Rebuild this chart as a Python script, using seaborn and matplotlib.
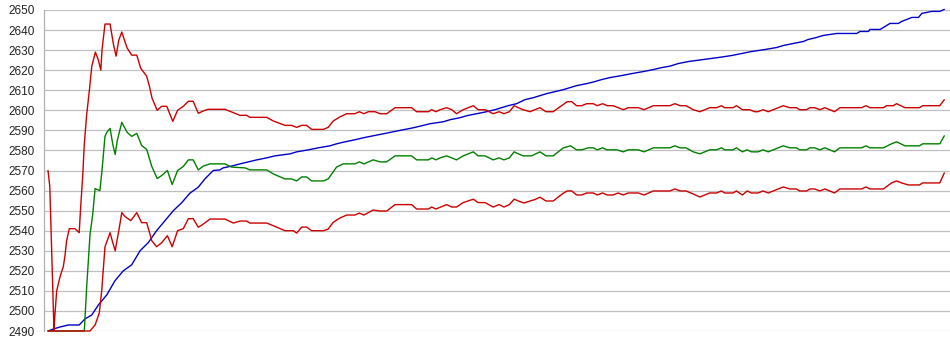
import matplotlib
matplotlib.use('Agg')
import matplotlib.pyplot as plt
import seaborn as sns

# x is the sample index (no labels on the x axis in the original)
upper_t = [0, 0.6, 2.0, 2.3, 2.9, 4.0, 5.1, 5.7, 6.2, 7.1, 9.0, 10.4, 10.9, 11.6, 12.1, 12.9, 13.8, 14.6,
           15.8, 16.8, 17.6, 18.0, 19.0, 20.7, 21.8, 22.7, 23.6, 24.6, 25.7, 26.4, 27.9, 29.6, 30.9, 32.9,
           33.8, 34.7, 36.4, 37.9, 39.6, 41.6, 43.2, 45.1, 46.8, 48.4, 50.1, 51.8, 53.4, 59.0, 61.2, 64.0,
           66.2, 67.3, 72.9, 75.1, 79.0, 81.2, 82.9, 84.6, 86.2, 87.9, 91.8, 93.4, 95.1, 97.3, 99.6, 102.3,
           103.8, 105.3, 106.8, 109.0, 110.7, 112.9, 115.7, 121.2, 122.9, 126.8, 127.9, 129.3, 130.7, 132.9,
           134.6, 136.2, 138.4, 140.1, 141.8, 143.4, 145.7, 148.4, 150.4, 152.0, 153.8, 155.4, 156.8, 158.4,
           160.7, 162.3, 164.0, 166.0, 168.4, 171.2, 173.1, 174.6, 176.2, 177.9, 179.6, 181.8, 183.1, 184.9,
           186.4, 188.4, 191.8, 193.4, 196.8, 198.7, 201.8, 207.3, 209.0, 210.7, 212.7, 215.1, 217.3, 220.6,
           222.9, 224.5, 225.6, 228.4, 229.5, 231.5, 233.9, 235.6, 236.7, 238.4, 240.1, 245.1, 247.3, 249.5,
           250.6, 252.9, 254.0, 255.6, 257.3, 259.0, 260.6, 262.2, 264.0, 271.2, 272.7, 274.0, 278.5, 279.6,
           281.8, 282.9, 285.7, 290.5, 291.6, 297.3, 298.8]
upper_v = [2570, 2562, 2490, 2498, 2510, 2517, 2522, 2528, 2535, 2541, 2541, 2539, 2552, 2568, 2583, 2598,
           2610, 2622, 2629, 2625, 2620, 2630, 2643, 2643, 2633, 2627, 2635, 2639, 2634, 2631, 2627.5, 2627.5,
           2621, 2617, 2612, 2606, 2600, 2602, 2602, 2594.5, 2600, 2602, 2604.5, 2604.5, 2598.5, 2599.7,
           2600.5, 2600.5, 2599.2, 2597.5, 2597.5, 2596.5, 2596.5, 2594.7, 2592.5, 2592.5, 2591.5, 2592.5,
           2592.5, 2590.5, 2590.5, 2591.5, 2594.7, 2596.7, 2598.3, 2598.3,
           2599.3, 2598.3, 2599.3, 2599.3, 2598.3, 2598.3, 2601.3, 2601.3, 2599.3, 2599.3, 2600.3, 2599.3,
           2600.3, 2601.3, 2600.3, 2598.3, 2600.3, 2601.3, 2602.3, 2600.3, 2600.3, 2598.3, 2599.3, 2598.3,
           2599.3, 2602.3, 2601.3, 2600.3, 2599.3, 2600.3, 2601.3, 2599.3, 2599.3, 2602.3, 2604.3, 2604.3,
           2602.3, 2602.3, 2603.3, 2603.3, 2602.3, 2603.3, 2602.3, 2602.3, 2600.3, 2601.3, 2601.3, 2600.3,
           2602.3, 2602.3, 2603.3, 2602.3, 2602.3, 2600.3, 2599.3, 2601.3, 2601.3, 2602.3, 2601.3, 2601.3,
           2602.3, 2600.3, 2600.3, 2599.3, 2599.3, 2600.3, 2599.3, 2602.3, 2601.3, 2601.3, 2600.3, 2600.3,
           2601.3, 2601.3, 2600.3, 2601.3, 2600.3, 2599.3, 2601.3, 2601.3, 2602.3, 2601.3, 2601.3, 2602.3,
           2602.3, 2603.3, 2601.3, 2601.3, 2602.3, 2602.3, 2605.3]

mid_t = [0, 12.1, 12.9, 14.0, 14.9, 15.7, 16.4, 17.3, 18.0, 19.0, 19.6, 20.7, 21.6, 22.4, 23.1, 24.6, 26.4,
         27.9, 29.6, 31.2, 32.9, 34.6, 36.4, 37.9, 39.8, 41.4, 43.2, 45.1, 46.8, 48.4, 50.1, 51.8, 54.0, 59.0,
         61.2, 65.7, 67.3, 72.9, 75.1, 79.0, 81.2, 82.9, 84.6, 86.2, 87.9, 91.8, 93.4, 96.2, 98.4, 102.3,
         103.8, 105.3, 108.4, 110.7, 112.9, 115.7, 121.2, 122.9, 126.8, 127.9, 129.3, 130.7, 132.9, 136.2,
         138.4, 140.1, 141.8, 143.4, 145.7, 148.4, 150.4, 152.0, 153.8, 155.4, 156.8, 158.4, 161.2, 164.0,
         166.0, 168.4, 171.8, 174.2, 176.2, 177.9, 180.1, 181.8, 183.1, 184.9, 186.4, 189.6, 191.8, 193.4,
         196.8, 198.7, 201.8, 207.3, 209.0, 210.7, 212.7, 215.1, 217.3, 220.6, 222.9, 224.5, 225.6, 228.4,
         229.5, 231.5, 233.1, 234.5, 236.7, 238.4, 240.1, 245.1, 247.3, 249.5, 250.6, 252.9, 254.0, 255.6,
         257.3, 259.0, 260.6, 262.2, 264.0, 271.2, 272.7, 274.0, 278.5, 281.2, 282.9, 285.7, 290.5, 291.6,
         297.3, 298.8]
mid_v = [2490, 2490, 2512, 2538, 2548, 2561, 2560.5, 2560, 2570, 2587, 2589, 2591, 2583, 2578, 2585, 2594,
         2589, 2587, 2588.5, 2582.5, 2580.5, 2572, 2566, 2567.5, 2570, 2563, 2570, 2572, 2575.3, 2575.3,
         2570.3, 2572.2, 2573.3, 2573.3, 2571.7, 2571.3, 2570.3, 2570.3, 2568.3, 2565.8, 2565.8, 2564.8,
         2566.8, 2566.8, 2564.8, 2564.8, 2565.8, 2571.7, 2573.3, 2573.3,
         2574.3, 2573.3, 2575.3, 2574.3, 2574.3, 2577.3, 2577.3, 2575.3, 2575.3, 2576.3, 2575.3, 2576.3,
         2577.3, 2575.3, 2577.3, 2578.3, 2579.3, 2577.3, 2577.3, 2575.3, 2576.3, 2575.3, 2576.3, 2579.3,
         2578.3, 2577.3, 2577.3, 2579.3, 2577.3, 2577.3, 2581.3, 2582.3, 2580.3, 2580.3, 2581.3, 2581.3,
         2580.3, 2581.3, 2580.3, 2580.3, 2579.3, 2580.3, 2580.3, 2579.3, 2581.3, 2581.3, 2582.3, 2581.3,
         2581.3, 2579.3, 2578.3, 2580.3, 2580.3, 2581.3, 2580.3, 2580.3, 2581.3, 2579.3, 2580.3, 2579.3,
         2579.3, 2580.3, 2579.3, 2582.3, 2581.3, 2581.3, 2580.3, 2580.3, 2581.3, 2581.3, 2580.3, 2581.3,
         2580.3, 2579.3, 2581.3, 2581.3, 2582.3, 2581.3, 2581.3, 2583.3, 2584.3, 2582.3, 2582.3, 2583.3,
         2583.3, 2587.3]

lower_t = [0, 14.0, 15.7, 17.1, 17.9, 19.0, 20.7, 21.6, 22.4, 23.6, 24.6, 25.7, 27.6, 29.6, 31.2, 32.9, 34.6,
           36.2, 37.9, 39.8, 41.4, 43.2, 45.1, 46.8, 48.4, 50.1, 51.8, 54.0, 59.0, 61.8, 64.0, 66.2, 67.3,
           72.9, 75.1, 79.0, 81.8, 82.9, 84.6, 86.2, 87.9, 91.8, 93.4, 95.1, 97.3, 99.6, 102.3,
           103.8, 105.3, 108.4, 110.7, 112.9, 115.7, 121.2, 122.9, 126.8, 127.9, 129.3, 132.9, 134.6, 136.2,
           138.4, 141.8, 143.4, 145.7, 148.4, 150.4, 152.0, 153.8, 155.4, 156.8, 158.7, 160.7, 162.3, 164.0,
           166.0, 168.4, 171.8, 173.1, 174.6, 176.2, 177.9, 179.6, 181.8, 183.1, 184.9, 186.4, 188.4, 190.1,
           191.8, 193.4, 196.8, 198.7, 201.8, 207.3, 209.0, 210.7, 212.7, 215.1, 217.3, 220.6, 222.9, 224.5,
           225.6, 228.4, 229.5, 231.5, 233.1, 234.5, 236.7, 238.4, 240.1, 245.1, 247.3, 249.5, 250.6, 252.9,
           254.0, 255.6, 257.3, 259.0, 260.6, 262.2, 264.0, 271.2, 272.7, 274.0, 278.5, 281.2, 282.9, 284.6,
           286.8, 290.5, 291.6, 297.3, 298.8]
lower_v = [2490, 2490, 2493, 2499, 2510, 2532, 2539, 2534, 2530, 2540, 2549, 2547, 2545, 2549, 2544, 2544,
           2535, 2532, 2534, 2537.5, 2532, 2540, 2541, 2546, 2546, 2541.7, 2543.3, 2545.8, 2545.8, 2543.8,
           2544.8, 2544.8, 2543.8, 2543.8, 2542.5, 2540, 2540, 2538.8, 2541.8, 2541.8, 2540, 2540, 2540.8,
           2544.2, 2546.3, 2547.8, 2547.8,
           2548.8, 2547.8, 2550.3, 2549.8, 2549.8, 2553, 2553, 2550.8, 2550.8, 2551.8, 2550.8, 2553, 2551.8,
           2551.8, 2554, 2555.7, 2554, 2554, 2551.8, 2553, 2551.8, 2553, 2555.7, 2554.8, 2553.8, 2554.8,
           2555.5, 2556.7, 2554.8, 2554.8, 2558.7, 2559.8, 2559.8, 2557.8, 2557.8, 2558.8, 2558.8, 2557.8,
           2558.8, 2557.8, 2557.8, 2558.8, 2557.8, 2558.8, 2558.8, 2557.8, 2559.8, 2559.8, 2560.8, 2559.8,
           2559.8, 2558.3, 2556.8, 2558.8, 2558.8, 2559.8, 2558.8, 2558.8, 2559.8, 2557.8, 2559.8, 2558.8,
           2558.8, 2559.8, 2558.8, 2561.8, 2560.8, 2560.8, 2559.8, 2559.8, 2560.8, 2560.8, 2559.8, 2560.8,
           2559.8, 2558.8, 2560.8, 2560.8, 2561.8, 2560.8, 2560.8, 2563.8, 2564.8, 2563.8, 2562.8, 2562.8,
           2563.8, 2563.8, 2568.8]

trend_t = [0, 1.8, 4.0, 6.8, 10.4, 12.3, 14.6, 16.8, 19.6, 22.3, 25.1, 27.9, 30.7, 33.4, 36.2, 39.0, 41.8,
           44.6, 47.3, 50.1, 52.3, 55.1, 57.3, 58.4, 61.2, 64.0, 66.8, 69.6, 72.9, 75.7, 80.7, 82.9, 86.8,
           90.1, 94.0, 96.2, 99.0, 102.3, 105.1, 108.4, 111.8, 115.1, 118.4, 121.8, 124.6, 127.3, 131.8,
           134.0, 137.3, 139.6, 142.9, 146.2, 149.0, 151.2, 153.4, 156.2, 159.0, 161.8, 164.0, 166.2, 169.0,
           171.8, 174.0, 176.2, 179.6, 182.3, 184.5, 187.3, 191.2, 194.6, 198.4, 201.8, 204.6, 207.3, 210.1,
           213.4, 218.4, 223.4, 227.9, 231.2, 234.5, 239.0, 242.9, 245.1, 248.4, 251.8, 253.4, 256.2, 258.4,
           262.9, 269.6, 270.7, 273.5, 274.0, 277.4, 278.5, 280.7, 283.5, 284.6, 286.3, 288.0, 290.2, 291.3,
           294.6, 297.3, 298.8]
trend_v = [2490, 2491, 2492, 2493, 2493, 2496, 2498, 2503, 2508, 2515, 2520, 2523, 2530, 2534, 2540, 2545,
           2550, 2554, 2558.7, 2561.7, 2565.8, 2570, 2570.3, 2571.3, 2572.2, 2573.3, 2574.3, 2575.3, 2576.3,
           2577.3, 2578.3, 2579.3, 2580.3, 2581.3, 2582.3, 2583.3, 2584.3, 2585.3, 2586.3, 2587.3, 2588.3,
           2589.3, 2590.3, 2591.3, 2592.3, 2593.3, 2594.3, 2595.3, 2596.3, 2597.3, 2598.3, 2599.3, 2600.3,
           2601.3, 2602.3, 2603.3, 2605.3, 2606.3, 2607.3, 2608.3, 2609.3, 2610.3, 2611.3, 2612.3, 2613.3,
           2614.3, 2615.3, 2616.3, 2617.3, 2618.3, 2619.3, 2620.3, 2621.3, 2622.0, 2623.3, 2624.3, 2625.3,
           2626.3, 2627.3, 2628.3, 2629.3, 2630.3, 2631.3, 2632.3, 2633.3, 2634.3, 2635.3, 2636.3, 2637.3,
           2638.3, 2638.3, 2639.3, 2639.3, 2640.3, 2640.3, 2641.3, 2643.3, 2643.3, 2644.3, 2645.3, 2646.3,
           2646.3, 2648.3, 2649.3, 2649.3, 2650.3]

y_ticks = list(range(2490, 2651, 10))

sns.set_style('white')
plt.rcParams['font.family'] = ['Liberation Sans', 'DejaVu Sans']

fig = plt.figure(figsize=(9.5, 3.55), dpi=100)
ax = fig.add_axes([43.5 / 950, 24 / 355, 906.5 / 950, 321 / 355])

series = [
    (trend_t, trend_v, '#0000c8'),
    (mid_t, mid_v, '#008000'),
    (upper_t, upper_v, '#cc0000'),
    (lower_t, lower_v, '#cc0000'),
]
for t, v, c in series:
    sns.lineplot(x=t, y=v, color=c, lw=1.0, estimator=None, ax=ax, clip_on=False)

ax.set_xlim(-1.5, 300.7)
ax.set_ylim(2490, 2650)
ax.set_yticks(y_ticks)
ax.set_xticks([])
ax.grid(axis='y', color='#c0c0c0', lw=0.9)
ax.set_axisbelow(True)
ax.tick_params(axis='y', length=0, pad=6, labelsize=8.5, labelcolor='#222222')
for s in ['top', 'right', 'bottom']:
    ax.spines[s].set_visible(False)
ax.spines['left'].set_color('#b0b0b0')
ax.spines['left'].set_linewidth(0.9)
ax.set_xlabel('')
ax.set_ylabel('')

plt.savefig('out.png', dpi=100)
